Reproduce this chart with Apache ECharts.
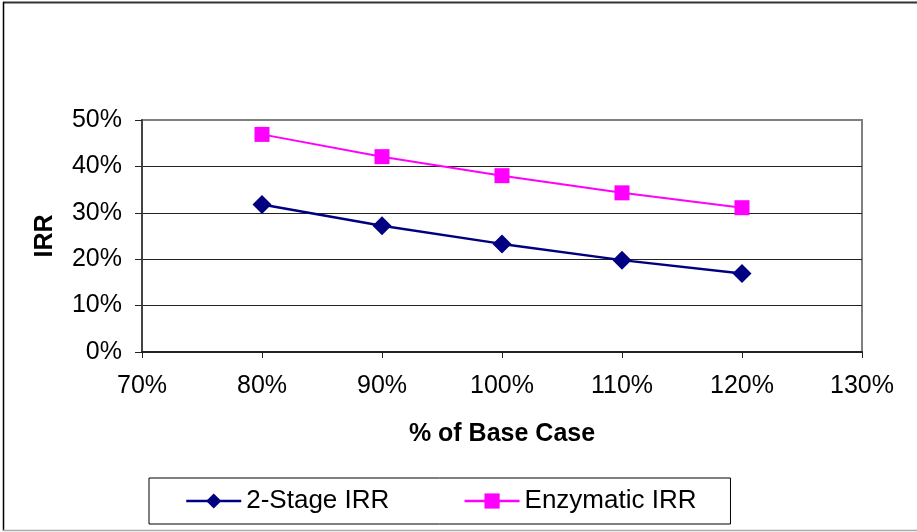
<!DOCTYPE html>
<html>
<head>
<meta charset="utf-8">
<script src="https://cdn.jsdelivr.net/npm/echarts@6/dist/echarts.min.js"></script>
<style>
  html, body { margin: 0; padding: 0; background: #fff; }
  #chart { width: 917px; height: 532px; }
</style>
</head>
<body>
<div id="chart"></div>
<script>
// Sensitivity of IRR to the base-case assumption (percent of base case)
const baseCasePct = [80, 90, 100, 110, 120];
const twoStageIRR = [31.8, 27.2, 23.3, 19.8, 16.9];
const enzymaticIRR = [46.9, 42.1, 38.0, 34.3, 31.1];
const seriesNames = ['2-Stage IRR', 'Enzymatic IRR'];
const xAxisTitle = '% of Base Case';
const yAxisTitle = 'IRR';

const FONT = '"Liberation Sans", Arial, sans-serif';

const chart = echarts.init(document.getElementById('chart'), null, { renderer: 'canvas' });

chart.setOption({
  backgroundColor: '#fff',
  animation: false,
  textStyle: { fontFamily: FONT },
  grid: {
    left: 142, right: 55, top: 120, bottom: 180,
    show: true,
    borderColor: '#808080',
    borderWidth: 2,
    backgroundColor: '#fff'
  },
  // outer chart frame
  graphic: [
    { type: 'line', shape: { x1: 3, y1: 2.5, x2: 917, y2: 2.5 }, style: { stroke: '#333', lineWidth: 2 } },
    { type: 'line', shape: { x1: 3.5, y1: 2, x2: 3.5, y2: 531 }, style: { stroke: '#000', lineWidth: 1.5 } },
    { type: 'line', shape: { x1: 3, y1: 530.5, x2: 917, y2: 530.5 }, style: { stroke: '#aaa', lineWidth: 1.5 } }
  ],
  legend: {
    left: 149,
    top: 478,
    padding: [10, 34, 10, 36],
    itemGap: 74,
    itemWidth: 55,
    itemHeight: 19,
    borderColor: '#000',
    borderWidth: 1,
    backgroundColor: '#fff',
    data: seriesNames,
    lineStyle: { width: 2.5 },
    textStyle: { fontFamily: FONT, fontSize: 26, color: '#000', lineHeight: 26 }
  },
  xAxis: {
    type: 'value',
    min: 70,
    max: 130,
    interval: 10,
    name: xAxisTitle,
    nameLocation: 'middle',
    nameGap: 70,
    nameTextStyle: { fontFamily: FONT, fontSize: 25, fontWeight: 'bold', color: '#000' },
    axisLine: { show: true, onZero: false, lineStyle: { color: '#222', width: 2 } },
    axisTick: { show: true, inside: false, length: 6, lineStyle: { color: '#222', width: 1 } },
    axisLabel: { formatter: '{value}%', fontFamily: FONT, fontSize: 25, color: '#000', margin: 22 },
    splitLine: { show: false }
  },
  yAxis: {
    type: 'value',
    min: 0,
    max: 50,
    interval: 10,
    name: yAxisTitle,
    nameLocation: 'middle',
    nameGap: 84,
    nameRotate: 90,
    nameTextStyle: { fontFamily: FONT, fontSize: 25, fontWeight: 'bold', color: '#000' },
    axisLine: { show: true, lineStyle: { color: '#444', width: 2 } },
    axisTick: { show: true, inside: false, length: 7, lineStyle: { color: '#222', width: 1 } },
    axisLabel: { formatter: '{value}%', fontFamily: FONT, fontSize: 25, color: '#000', margin: 20 },
    splitLine: {
      show: true,
      lineStyle: { color: ['#222', '#222', '#222', '#222', '#222', '#808080'], width: 1 }
    }
  },
  series: [
    {
      name: seriesNames[0],
      type: 'line',
      data: baseCasePct.map((x, i) => [x, twoStageIRR[i]]),
      symbol: 'diamond',
      symbolSize: 19,
      lineStyle: { color: '#000080', width: 2.5 },
      itemStyle: { color: '#000080' },
      z: 3
    },
    {
      name: seriesNames[1],
      type: 'line',
      data: baseCasePct.map((x, i) => [x, enzymaticIRR[i]]),
      symbol: 'rect',
      symbolSize: 15,
      lineStyle: { color: '#FF00FF', width: 2 },
      itemStyle: { color: '#FF00FF' },
      z: 3
    }
  ]
});
</script>
</body>
</html>
